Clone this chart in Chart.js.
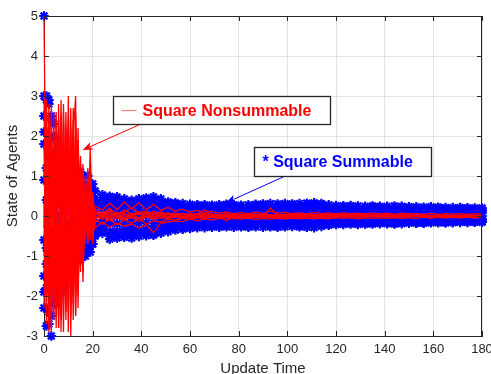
<!DOCTYPE html>
<html>
<head>
<meta charset="utf-8">
<script src="https://cdn.jsdelivr.net/npm/chart.js@4/dist/chart.umd.min.js"></script>
<style>
html,body{margin:0;padding:0;background:#fff;overflow:hidden;}
#c{display:block;}
</style>
</head>
<body>
<canvas id="c" width="491" height="374"></canvas>
<script>
// ---------- DATA ----------
const times = [0,1,2,3,4,5,6,7,8,9,10,11,12,13,14,15,16,17,18,19,20,
  21,24,27,30,33,36,39,42,45,48,51,54,57,60,63,66,69,72,75,78,81,84,87,90,
  93,96,99,102,105,108,111,114,117,120,123,126,129,132,135,138,141,144,147,150,
  153,156,159,162,165,168,171,174,177,180];

const xTicks = [0,20,40,60,80,100,120,140,160,180];
const yTicks = [-3,-2,-1,0,1,2,3,4,5];

// Square summable step sizes (blue asterisks)
const blueAgent1 = [5,3.0,2.9,2.5,2.3,1.9,1.7,1.4,1.5,1.2,1.3,1.1,1.0,1.2,0.9,1.1,1.0,0.8,1.0,0.7,0.8,
  0.63,-0.43,0.49,-0.55,0.43,-0.55,0.43,-0.49,0.48,-0.43,0.35,-0.35,0.31,-0.31,0.28,-0.29,0.27,-0.28,0.29,-0.28,
  0.27,-0.28,0.29,-0.28,0.31,-0.28,0.31,-0.26,0.31,-0.28,0.33,-0.26,0.28,-0.21,0.25,-0.20,0.25,-0.20,0.25,-0.19,
  0.24,-0.20,0.24,-0.18,0.23,-0.18,0.23,-0.17,0.21,-0.16,0.21,-0.16,0.20,-0.15];
const blueAgent2 = [3.0,2.9,2.8,2.4,2.0,1.6,1.2,0.8,0.5,0.9,0.4,0.7,0.3,0.6,0.2,0.5,0.3,0.6,0.2,0.5,0.4,
  -0.48,0.53,-0.58,0.48,-0.53,0.39,-0.51,0.45,-0.48,0.43,-0.39,0.33,-0.33,0.29,-0.29,0.28,-0.28,0.28,-0.27,0.28,
  -0.27,0.28,-0.27,0.30,-0.27,0.30,-0.27,0.30,-0.27,0.32,-0.29,0.31,-0.23,0.26,-0.21,0.26,-0.21,0.24,-0.20,0.24,
  -0.19,0.25,-0.19,0.23,-0.18,0.22,-0.17,0.22,-0.17,0.21,-0.16,0.20,-0.15,0.20];
const blueAgent3 = [2.5,1.2,-0.5,0.8,-0.9,0.6,-0.7,0.9,-0.4,0.5,-0.8,0.3,-0.6,0.4,-0.5,0.2,-0.3,0.4,-0.2,0.3,-0.1,
  0.40,-0.30,0.33,-0.37,0.30,-0.37,0.30,-0.34,0.33,-0.30,0.25,-0.25,0.23,-0.23,0.21,-0.22,0.20,-0.21,0.22,-0.21,
  0.20,-0.21,0.22,-0.20,0.23,-0.21,0.23,-0.20,0.23,-0.21,0.24,-0.20,0.21,-0.17,0.19,-0.16,0.19,-0.16,0.19,-0.16,
  0.18,-0.15,0.19,-0.15,0.18,-0.15,0.17,-0.14,0.17,-0.14,0.16,-0.14,0.16,-0.13];
const blueAgent4 = [1.8,-0.8,1.5,-1.2,1.1,-1.0,1.3,-0.7,0.9,-0.9,0.6,-0.5,0.8,-0.6,0.5,-0.3,0.6,-0.4,0.4,-0.3,0.2,
  -0.33,0.36,-0.39,0.33,-0.36,0.28,-0.35,0.31,-0.33,0.30,-0.28,0.24,-0.24,0.22,-0.22,0.21,-0.21,0.21,-0.20,0.21,
  -0.20,0.21,-0.20,0.22,-0.20,0.22,-0.20,0.22,-0.20,0.24,-0.21,0.23,-0.18,0.20,-0.17,0.20,-0.16,0.19,-0.16,0.19,
  -0.15,0.19,-0.15,0.18,-0.15,0.17,-0.14,0.17,-0.14,0.16,-0.13,0.16,-0.13,0.16];
const blueAgent5 = [0.9,-1.8,0.7,-1.5,0.3,-1.2,0.5,-1.0,0.2,-0.7,0.1,-0.8,0.3,-0.5,0.0,-0.6,0.1,-0.4,-0.1,-0.5,0.0,
  0.20,-0.15,0.17,-0.19,0.15,-0.19,0.15,-0.17,0.17,-0.15,0.13,-0.13,0.12,-0.12,0.11,-0.11,0.10,-0.11,0.11,-0.10,
  0.10,-0.11,0.11,-0.10,0.12,-0.11,0.12,-0.10,0.12,-0.11,0.12,-0.11,0.11,-0.09,0.10,-0.08,0.10,-0.08,0.10,-0.08,
  0.09,-0.08,0.10,-0.08,0.09,-0.08,0.09,-0.07,0.09,-0.07,0.08,-0.07,0.08,-0.07];
const blueAgent6 = [-0.6,0.4,-1.6,0.2,-1.9,0.0,-1.4,0.3,-1.2,0.1,-1.0,-0.2,-0.9,0.2,-0.7,-0.1,-0.8,0.0,-0.6,-0.2,-0.5,
  -0.17,0.19,-0.20,0.17,-0.19,0.14,-0.18,0.16,-0.17,0.15,-0.14,0.12,-0.12,0.11,-0.11,0.11,-0.11,0.11,-0.10,0.11,
  -0.10,0.11,-0.10,0.11,-0.10,0.11,-0.10,0.11,-0.10,0.12,-0.11,0.12,-0.09,0.10,-0.09,0.10,-0.08,0.10,-0.08,0.10,
  -0.08,0.10,-0.08,0.09,-0.07,0.09,-0.07,0.09,-0.07,0.08,-0.07,0.08,-0.07,0.08];
const blueAgent7 = [-1.5,-2.75,-2.4,-3.0,-2.2,-1.9,-2.0,-1.6,-1.7,-1.4,-1.5,-1.2,-1.3,-1.1,-1.0,-1.1,-0.9,-1.0,-0.8,-0.9,-0.7,
  0.05,-0.02,0.03,0.00,0.04,-0.03,0.02,0.01,0.04,-0.02,0.03,0.00,0.02,-0.01,0.02,0.01,0.03,-0.01,0.02,0.00,
  0.02,-0.01,0.03,0.01,0.02,-0.01,0.03,0.00,0.02,-0.01,0.03,0.01,0.02,0.00,0.02,-0.01,0.02,0.00,0.02,0.01,
  0.02,-0.01,0.02,0.00,0.02,0.01,0.02,0.00,0.01,0.00,0.02,0.00,0.01,0.00];
const blueAgent8 = [-2.3,-2.3,-2.7,-2.5,-2.1,-2.2,-1.8,-1.9,-1.5,-1.6,-1.3,-1.4,-1.2,-0.9,-1.1,-0.8,-0.9,-0.7,-0.8,-0.6,-0.7,
  -0.50,-0.35,0.45,0.40,-0.50,-0.48,0.38,0.40,-0.45,-0.38,0.32,0.30,-0.30,-0.28,0.26,0.25,-0.26,-0.25,0.26,0.25,
  -0.25,-0.25,0.27,0.27,-0.25,-0.25,0.28,0.27,-0.25,-0.27,0.30,0.28,-0.22,-0.20,0.24,0.23,-0.19,-0.19,0.23,0.22,
  -0.18,-0.18,0.22,0.22,-0.17,-0.17,0.21,0.20,-0.16,-0.16,0.20,0.19,-0.15,-0.15];
const blueAgent9 = [2.1,-1.2,1.9,-0.4,1.6,-1.5,0.7,-1.2,1.1,-0.5,0.8,-0.9,0.6,-0.4,0.7,-0.6,0.5,-0.5,0.6,-0.4,0.5,
  0.30,-0.22,0.20,-0.40,0.28,-0.30,0.22,-0.38,0.35,-0.25,0.22,-0.20,0.18,-0.22,0.16,-0.18,0.20,-0.15,0.17,-0.19,
  0.14,-0.18,0.19,-0.14,0.16,-0.19,0.21,-0.15,0.18,-0.16,0.20,-0.17,0.15,-0.12,0.13,-0.15,0.16,-0.11,0.14,-0.13,
  0.12,-0.12,0.15,-0.10,0.13,-0.13,0.11,-0.10,0.12,-0.11,0.11,-0.10,0.12,-0.09];
const blueAgent10 = [-1.9,1.8,-1.1,1.4,-0.4,0.9,-0.2,1.2,-0.8,0.8,-0.3,0.6,-0.4,0.9,-0.2,0.7,-0.6,0.3,-0.4,0.2,-0.3,
  -0.28,0.40,-0.45,0.30,-0.40,0.25,-0.44,0.35,-0.38,0.33,-0.30,0.28,-0.26,0.20,-0.24,0.18,-0.22,0.24,-0.23,0.17,
  -0.22,0.19,-0.17,0.25,-0.21,0.18,-0.17,0.26,-0.22,0.21,-0.19,0.26,-0.15,0.17,-0.16,0.12,-0.17,0.16,-0.15,0.14,
  -0.14,0.15,-0.12,0.16,-0.14,0.12,-0.13,0.15,-0.11,0.13,-0.12,0.14,-0.11,0.13];

// Square nonsummable step sizes (red lines)
const redAgent1 = [5.0,-1.0,2.2,-2.9,2.6,-1.8,2.8,-2.2,2.6,-1.5,3.0,-1.2,2.0,3.0,-2.3,1.5,-1.65,0.9,-0.5,1.7,-0.3,
  0.25,0.15,0.32,0.16,0.35,0.18,0.33,0.15,0.30,0.14,0.22,0.12,0.17,0.10,0.14,0.08,0.12,0.07,0.10,0.06,
  0.09,0.05,0.10,0.06,0.12,0.07,0.09,0.06,0.08,0.05,0.09,0.06,0.08,0.05,0.08,0.06,0.07,0.05,0.08,0.05,
  0.07,0.04,0.07,0.05,0.06,0.04,0.07,0.04,0.06,0.04,0.06,0.04,0.06,0.04];
const redAgent2 = [3.0,-2.7,2.8,-2.0,1.9,-2.8,2.2,-2.9,1.6,-2.4,2.5,-3.0,1.8,-2.5,2.2,-1.2,1.0,-0.7,0.8,-0.6,0.5,
  -0.30,-0.15,-0.28,-0.18,-0.25,-0.20,-0.30,-0.22,-0.42,-0.18,-0.15,-0.12,-0.14,-0.08,-0.12,-0.07,-0.10,-0.06,-0.09,-0.06,
  -0.08,-0.05,-0.09,-0.06,-0.08,-0.05,-0.08,-0.05,-0.07,-0.05,-0.07,-0.05,-0.07,-0.04,-0.06,-0.04,-0.07,-0.04,-0.06,-0.04,
  -0.06,-0.04,-0.05,-0.04,-0.06,-0.03,-0.05,-0.03,-0.05,-0.03,-0.05,-0.03,-0.05,-0.03];
const redAgent3 = [2.5,2.8,-2.7,2.4,-2.2,2.0,-2.8,1.8,-2.9,2.2,-2.0,1.6,-2.6,1.8,-1.4,1.2,-0.9,0.7,-0.6,0.5,-0.7,
  0.10,-0.08,0.12,-0.05,0.08,-0.06,0.09,-0.04,0.07,-0.05,0.06,-0.03,0.07,-0.04,0.05,0.15,0.06,-0.03,0.05,-0.02,
  0.04,-0.03,0.05,-0.02,0.20,0.03,0.04,-0.02,0.05,-0.02,0.04,-0.03,0.03,-0.02,0.04,-0.02,0.03,-0.02,0.03,-0.01,
  0.03,-0.02,0.02,-0.01,0.03,-0.01,0.02,-0.01,0.02,-0.01,0.02,-0.01,0.02,-0.01];
const redAgent4 = [1.8,-2.2,2.5,-1.6,2.1,-2.5,1.5,-1.9,2.3,-2.6,1.8,-2.1,2.4,-2.47,1.3,-1.0,1.1,-0.5,0.9,-0.4,0.6,
  -0.05,0.07,-0.10,0.05,-0.07,0.06,-0.05,0.08,-0.06,0.04,-0.05,0.05,-0.04,0.03,-0.05,0.03,-0.03,0.04,-0.12,0.03,
  -0.03,0.02,-0.03,0.04,-0.02,0.03,-0.03,0.02,-0.02,0.03,-0.02,0.02,-0.02,0.02,-0.02,0.02,-0.01,0.02,-0.02,0.01,
  -0.01,0.02,-0.01,0.01,-0.01,0.02,-0.01,0.01,-0.01,0.01,-0.01,0.01,-0.01,0.01];
const redAgent5 = [0.9,1.9,-1.5,2.0,-2.6,1.7,-2.1,2.5,-1.8,2.0,-2.4,2.2,-1.6,1.5,-1.1,0.9,-0.8,0.6,-0.7,0.4,-0.3,
  0.18,0.05,0.20,0.02,0.15,0.04,0.10,0.03,0.12,0.05,0.08,0.02,0.06,0.03,0.05,0.02,0.04,0.03,0.05,0.02,
  0.04,0.03,0.04,0.02,0.03,0.02,0.04,0.06,0.03,0.02,0.03,0.02,0.03,0.02,0.02,0.03,0.02,0.01,0.02,0.02,
  0.03,0.01,0.02,0.02,0.01,0.02,0.01,0.01,0.02,0.01,0.01,0.02,0.01,0.01];
const redAgent6 = [-0.6,2.3,-2.1,1.5,-1.8,2.4,-1.6,1.9,-2.2,1.4,-2.9,1.7,-2.0,1.2,-1.5,1.0,-0.7,0.5,-0.5,0.3,-0.4,
  -0.15,-0.02,-0.12,-0.05,-0.10,-0.03,-0.14,-0.02,-0.08,-0.04,-0.06,-0.02,-0.05,-0.03,-0.04,-0.02,-0.04,-0.02,-0.03,-0.02,
  -0.04,-0.02,-0.03,-0.01,-0.03,-0.02,-0.02,-0.01,-0.03,-0.01,-0.02,-0.02,-0.02,-0.01,-0.02,-0.01,-0.02,-0.01,-0.01,-0.01,
  -0.02,-0.01,-0.01,-0.01,-0.01,-0.01,-0.01,-0.01,-0.01,0.00,-0.01,0.00,-0.01,0.00];
const redAgent7 = [-1.5,1.2,-2.4,2.1,-1.3,1.6,-2.5,1.1,-2.0,1.9,-1.7,1.3,-2.2,0.8,-1.8,0.7,-1.2,0.4,-0.6,0.6,-0.2,
  0.03,0.08,0.02,0.10,0.01,0.07,0.03,0.09,0.02,0.06,0.03,0.05,0.02,0.04,0.03,0.05,0.02,0.04,0.01,0.03,
  0.02,0.05,0.02,0.03,0.01,0.03,0.02,0.04,0.02,0.03,0.01,0.03,0.02,0.03,0.01,0.02,0.02,0.03,0.01,0.02,
  0.01,0.02,0.02,0.02,0.01,0.02,0.01,0.02,0.01,0.01,0.01,0.02,0.01,0.01];
const redAgent8 = [-2.3,2.6,-1.9,1.1,-2.4,1.3,-1.2,2.0,-1.4,2.6,-1.2,0.9,-1.5,2.2,-0.9,1.1,-0.6,0.8,-0.4,0.2,-0.5,
  -0.08,0.02,-0.06,0.00,-0.09,0.01,-0.07,-0.01,-0.05,0.02,-0.04,0.00,-0.05,0.01,-0.03,0.00,-0.04,0.01,-0.03,0.00,
  -0.03,0.01,-0.02,0.00,-0.03,0.01,-0.02,0.00,-0.02,0.01,-0.02,0.00,-0.02,0.00,-0.01,0.00,-0.02,0.00,-0.01,0.00,
  -0.01,0.00,-0.01,0.00,-0.01,0.00,-0.01,0.00,-0.01,0.00,-0.01,0.00,-0.01,0.00];
const redAgent9 = [0.3,-2.0,1.6,-2.5,1.2,-1.4,2.4,-1.7,1.0,-2.2,1.4,-2.5,1.1,-1.9,0.8,-1.4,0.7,-0.5,1.2,-0.3,0.3,
  -0.04,0.05,-0.03,0.06,-0.04,0.03,-0.05,0.04,-0.03,0.02,-0.03,0.04,-0.02,0.03,-0.02,0.02,-0.03,0.02,-0.02,0.03,
  -0.02,0.02,-0.02,0.02,-0.01,0.02,-0.02,0.01,-0.02,0.02,-0.01,0.01,-0.02,0.01,-0.01,0.02,-0.01,0.01,-0.01,0.01,
  -0.01,0.01,-0.01,0.01,-0.01,0.01,-0.01,0.01,-0.01,0.01,-0.01,0.01,-0.01,0.01];
const redAgent10 = [-0.3,2.9,-2.9,1.3,-1.9,2.6,-2.8,1.4,-2.5,1.6,-1.4,2.7,-1.8,1.1,-2.0,1.4,-1.1,1.0,-0.3,1.1,-0.2,
  0.07,-0.03,0.09,-0.02,0.06,-0.04,0.08,-0.02,0.05,-0.03,0.04,-0.02,0.05,-0.01,0.04,-0.02,0.03,-0.01,0.04,-0.02,
  0.03,-0.01,0.03,-0.02,0.03,-0.01,0.02,-0.01,0.03,-0.01,0.02,-0.01,0.02,-0.01,0.02,-0.01,0.02,-0.01,0.02,-0.01,
  0.02,0.00,0.01,-0.01,0.02,0.00,0.01,-0.01,0.01,0.00,0.01,0.00,0.01,0.00];
const redAgent11 = [1.3,-1.6,2.0,-2.8,1.5,-2.0,1.9,-2.6,2.8,-1.1,2.2,-1.8,2.7,-1.3,1.9,-0.6,1.3,-0.4,0.5,-0.5,0.2,
  -0.10,-0.20,-0.08,-0.22,-0.10,-0.18,-0.06,-0.20,-0.12,-0.15,-0.07,-0.10,-0.05,-0.08,-0.04,-0.06,-0.03,-0.05,-0.03,-0.04,
  -0.02,-0.04,-0.03,-0.03,-0.02,-0.03,-0.02,-0.03,-0.02,-0.02,-0.01,-0.02,-0.02,-0.02,-0.01,-0.02,-0.01,-0.02,-0.01,-0.01,
  -0.01,-0.02,-0.01,-0.01,-0.01,-0.01,-0.01,-0.01,0.00,-0.01,0.00,-0.01,0.00,-0.01];
const redAgent12 = [-1.0,0.6,-1.2,2.8,-2.0,0.8,-1.5,2.9,-1.0,1.2,-1.9,0.6,-0.9,2.5,-1.2,0.5,-1.4,0.3,-0.2,0.8,-0.6,
  0.12,0.02,0.15,0.05,0.10,0.20,0.08,0.12,0.06,0.10,0.04,0.08,0.03,0.06,0.04,0.05,0.03,0.04,0.02,0.04,
  0.03,0.03,0.02,0.03,0.02,0.03,0.02,0.02,0.02,0.03,0.02,0.02,0.01,0.02,0.01,0.02,0.01,0.02,0.01,0.01,
  0.01,0.02,0.01,0.01,0.01,0.01,0.01,0.01,0.01,0.01,0.00,0.01,0.00,0.01];

const blueAgents = [blueAgent1,blueAgent2,blueAgent3,blueAgent4,blueAgent5,blueAgent6,blueAgent7,blueAgent8,blueAgent9,blueAgent10];
const redAgents = [redAgent1,redAgent2,redAgent3,redAgent4,redAgent5,redAgent6,redAgent7,redAgent8,redAgent9,redAgent10,redAgent11,redAgent12];

const labelNonsummable = 'Square Nonsummable';
const labelSummable = '* Square Summable';
const xTitle = 'Update Time';
const yTitle = 'State of Agents';

// ---------- CHART ----------
const FONT = '"Liberation Sans", Arial, Helvetica, sans-serif';
const AXIS_COLOR = '#262626';

function pts(arr){ return times.map((t,i)=>({x:t, y:arr[i]})); }

const datasets = [];
redAgents.forEach((a)=>datasets.push({
  data: pts(a), showLine:true, borderColor:'#ff0000', borderWidth:1.3,
  pointRadius:0, pointHoverRadius:0, order:0, clip:false, tension:0
}));
blueAgents.forEach((a)=>datasets.push({
  data: pts(a), showLine:false, borderColor:'#0000ff', backgroundColor:'#0000ff',
  pointStyle:'star', pointRadius:4.8, pointBorderWidth:2.2, order:1, clip:false
}));

const annotations = {
  id:'annotations',
  afterDatasetsDraw(chart){
    const {ctx, scales:{x, y}, chartArea:ca} = chart;
    ctx.save();
    ctx.strokeStyle = AXIS_COLOR; ctx.lineWidth = 1;
    ctx.beginPath();
    ctx.moveTo(ca.left, ca.top+0.5); ctx.lineTo(ca.right, ca.top+0.5);
    ctx.moveTo(ca.right-0.5, ca.top); ctx.lineTo(ca.right-0.5, ca.bottom);
    ctx.stroke();
    const tl = 5;
    ctx.beginPath();
    xTicks.forEach(v=>{
      const px = Math.round(x.getPixelForValue(v))+0.5;
      ctx.moveTo(px, ca.bottom); ctx.lineTo(px, ca.bottom-tl);
      ctx.moveTo(px, ca.top); ctx.lineTo(px, ca.top+tl);
    });
    yTicks.forEach(v=>{
      const py = Math.round(y.getPixelForValue(v))+0.5;
      ctx.moveTo(ca.left, py); ctx.lineTo(ca.left+tl, py);
      ctx.moveTo(ca.right, py); ctx.lineTo(ca.right-tl, py);
    });
    ctx.stroke();

    function arrow(x0,y0,x1,y1,color){
      const X0=x.getPixelForValue(x0), Y0=y.getPixelForValue(y0);
      const X1=x.getPixelForValue(x1), Y1=y.getPixelForValue(y1);
      const ang=Math.atan2(Y1-Y0, X1-X0);
      const L=10, W=4;
      ctx.strokeStyle=color; ctx.fillStyle=color; ctx.lineWidth=1;
      ctx.beginPath(); ctx.moveTo(X0,Y0);
      ctx.lineTo(X1-Math.cos(ang)*L*0.8, Y1-Math.sin(ang)*L*0.8); ctx.stroke();
      ctx.beginPath();
      ctx.moveTo(X1,Y1);
      ctx.lineTo(X1-Math.cos(ang)*L-Math.sin(ang)*W, Y1-Math.sin(ang)*L+Math.cos(ang)*W);
      ctx.lineTo(X1-Math.cos(ang)*L*0.75, Y1-Math.sin(ang)*L*0.75);
      ctx.lineTo(X1-Math.cos(ang)*L+Math.sin(ang)*W, Y1-Math.sin(ang)*L-Math.cos(ang)*W);
      ctx.closePath(); ctx.fill();
    }
    function box(x0,y0,x1,y1){
      const X0=Math.round(x.getPixelForValue(x0))+0.5, Y0=Math.round(y.getPixelForValue(y0))+0.5;
      const X1=Math.round(x.getPixelForValue(x1))+0.5, Y1=Math.round(y.getPixelForValue(y1))+0.5;
      ctx.fillStyle='#ffffff'; ctx.fillRect(X0,Y0,X1-X0,Y1-Y0);
      ctx.strokeStyle=AXIS_COLOR; ctx.lineWidth=1.3; ctx.strokeRect(X0,Y0,X1-X0,Y1-Y0);
      return {X0,Y0,X1,Y1};
    }
    arrow(39.9, 2.3, 15.9, 1.65, '#ff0000');
    arrow(98.4, 0.98, 74.8, 0.33, '#0000ff');

    const b1 = box(28.4, 3.0, 117.5, 2.3);
    ctx.strokeStyle='#ff8080'; ctx.lineWidth=1.2;
    ctx.beginPath(); ctx.moveTo(b1.X0+8, (b1.Y0+b1.Y1)/2); ctx.lineTo(b1.X0+23,(b1.Y0+b1.Y1)/2); ctx.stroke();
    ctx.font = 'bold 16px '+FONT; ctx.textBaseline='middle'; ctx.textAlign='left';
    ctx.fillStyle='#ff0000';
    ctx.fillText(labelNonsummable, b1.X0+29, (b1.Y0+b1.Y1)/2+1);

    const b2 = box(86.3, 1.725, 159.0, 1.0);
    ctx.fillStyle='#0000ff';
    ctx.fillText(labelSummable, b2.X0+8, (b2.Y0+b2.Y1)/2+1);
    ctx.restore();
  }
};

new Chart(document.getElementById('c'), {
  type:'scatter',
  data:{datasets},
  options:{
    responsive:false, animation:false,
    events:[],
    layout:{padding:{top:16,right:9,left:0,bottom:0}},
    plugins:{legend:{display:false}, tooltip:{enabled:false}},
    scales:{
      x:{
        type:'linear', min:0, max:180,
        afterFit(s){ s.height = 38; s.paddingLeft = 0; s.paddingRight = 0; },
        afterBuildTicks(s){ s.ticks = xTicks.map(v=>({value:v})); },
        grid:{color:'#e3e3e3', drawTicks:false, lineWidth:1},
        border:{display:true, color:AXIS_COLOR, width:1},
        ticks:{padding:6, color:AXIS_COLOR, font:{family:FONT, size:13}, maxRotation:0, autoSkip:false},
        title:{display:true, text:xTitle, color:AXIS_COLOR, font:{family:FONT, size:15}, padding:{top:0,bottom:-3.5}}
      },
      y:{
        type:'linear', min:-3, max:5,
        afterFit(s){ s.width = 44; s.paddingTop = 0; s.paddingBottom = 0; },
        afterBuildTicks(s){ s.ticks = yTicks.map(v=>({value:v})); },
        grid:{color:'#e3e3e3', drawTicks:false, lineWidth:1},
        border:{display:true, color:AXIS_COLOR, width:1},
        ticks:{padding:6, color:AXIS_COLOR, font:{family:FONT, size:13}, autoSkip:false},
        title:{display:true, text:yTitle, color:AXIS_COLOR, font:{family:FONT, size:15}, padding:{top:4,bottom:0}}
      }
    }
  },
  plugins:[annotations]
});
</script>
</body>
</html>
